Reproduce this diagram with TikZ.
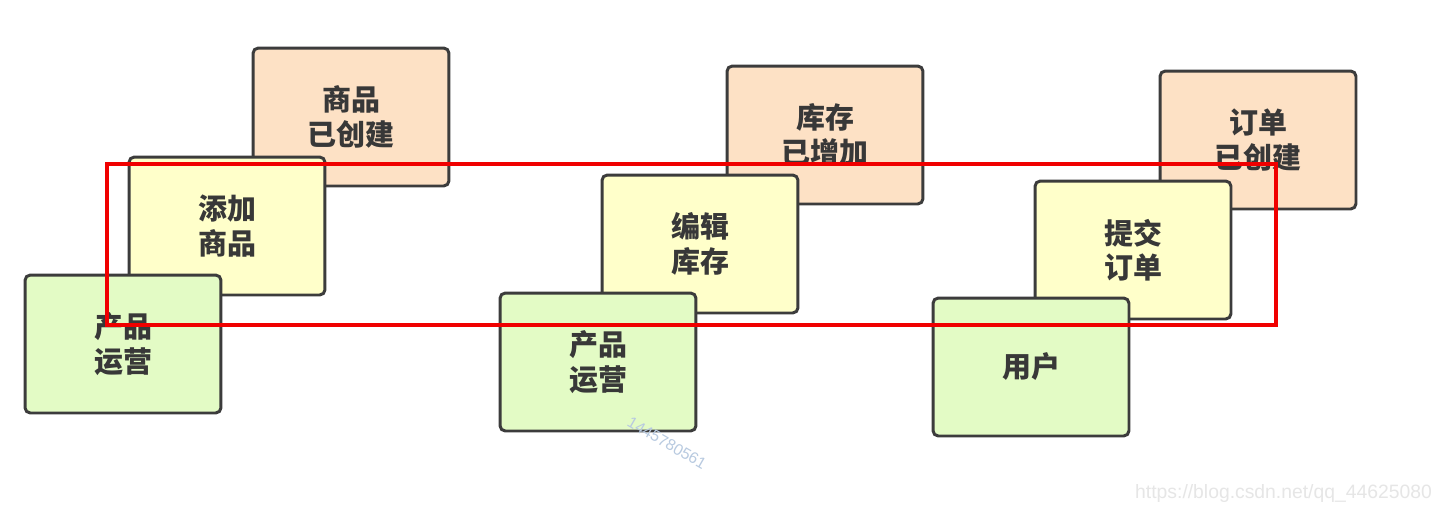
\documentclass[tikz,border=0pt]{standalone}
\usepackage{fontspec}
\usepackage{xcolor}
\usepackage{tikz}
\newfontfamily\cjk{Noto Sans CJK SC}
\newfontfamily\wmfont{Liberation Sans}
\definecolor{eventColor}{HTML}{FDE1C5}
\definecolor{commandColor}{HTML}{FFFFCA}
\definecolor{actorColor}{HTML}{E3FBC5}
\definecolor{cardLine}{HTML}{3C3C3C}
\definecolor{cardText}{HTML}{383838}
\definecolor{markRed}{HTML}{F00000}
\definecolor{markBlue}{HTML}{B8CAE0}
\definecolor{markGray}{HTML}{E6E6E6}
\tikzset{
    card/.style={draw=cardLine, line width=1.7pt, rounded corners=3pt,
        minimum width=3.92cm, minimum height=2.76cm, align=center,
        text=cardText, font=\cjk\bfseries\fontsize{16.5}{19.5}\selectfont},
    event/.style={card, fill=eventColor},
    command/.style={card, fill=commandColor},
    actor/.style={card, fill=actorColor}
}

\begin{document}
\begin{tikzpicture}[x=0.02cm, y=-0.02cm]
    \useasboundingbox[fill=white] (0,0) rectangle (1447,512);

    % product
    \node[event]   (event1)   at (351,117) {商品\\已创建};
    \node[command] (command1) at (227,226) {添加\\商品};
    \node[actor]   (actor1)   at (123,344) {产品\\运营};

    % stock
    \node[event]   (event2)   at (825,135) {库存\\已增加};
    \node[command] (command2) at (700,244) {编辑\\库存};
    \node[actor]   (actor2)   at (598,362) {产品\\运营};

    % order
    \node[event]   (event3)   at (1258,140) {订单\\已创建};
    \node[command] (command3) at (1133,250) {提交\\订单};
    \node[actor]   (actor3)   at (1031,367) {用户};

    \draw[markRed, line width=1.9pt] (107,164) rectangle (1276,325);

    \node[font=\wmfont\fontsize{9}{9}\selectfont, text=markBlue, rotate=-30, inner sep=0pt]
        (mark1) at (667,443) {1445780561};
    \node[font=\wmfont\fontsize{11}{11}\selectfont, text=markGray, anchor=east]
        (mark2) at (1438,493) {https://blog.csdn.net/qq\_44625080};
\end{tikzpicture}
\end{document}
